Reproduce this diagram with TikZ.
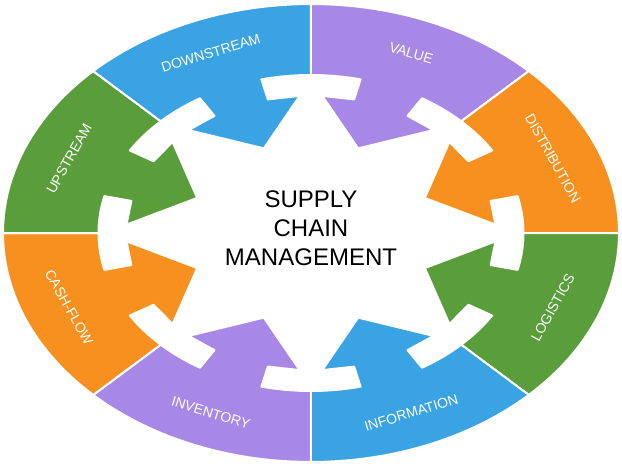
\documentclass[tikz,border=0pt]{standalone}
\usepackage{fontspec}
\setmainfont{Liberation Sans}
\definecolor{cblue}{HTML}{3AA3E3}
\definecolor{cpurple}{HTML}{A888E6}
\definecolor{corange}{HTML}{F7901E}
\definecolor{cgreen}{HTML}{5A9E3C}
\tikzset{seglbl/.style={text=white,font=\fontsize{14}{16}\selectfont},
  seg/.style={draw=white,line width=2pt,line join=round}}
\begin{document}
\begin{tikzpicture}[x=1pt,y=1pt]
\useasboundingbox[fill=white] (-311,-233) rectangle (311,233);
\def\RX{308}\def\RY{229}
\foreach \a/\c/\t in {67.5/cpurple/VALUE,22.5/corange/DISTRIBUTION,-22.5/cgreen/LOGISTICS,-67.5/cblue/INFORMATION,-112.5/cpurple/INVENTORY,-157.5/corange/CASH-FLOW,157.5/cgreen/UPSTREAM,112.5/cblue/DOWNSTREAM}{
  \fill[\c,seg]
    plot[domain=\a-22.5:\a+22.5,samples=24] ({\RX*cos(\x)},{\RY*sin(\x)})
    -- plot[domain=\a+22.5:\a+9,samples=6] ({0.69*\RX*cos(\x)},{0.69*\RY*sin(\x)})
    -- ({0.6*\RX*cos(\a+9)},{0.6*\RY*sin(\a+9)})
    -- ({0.6*\RX*cos(\a+19)},{0.6*\RY*sin(\a+19)})
    -- ({0.4*\RX*cos(\a)},{0.4*\RY*sin(\a)})
    -- ({0.6*\RX*cos(\a-19)},{0.6*\RY*sin(\a-19)})
    -- ({0.6*\RX*cos(\a-9)},{0.6*\RY*sin(\a-9)})
    -- plot[domain=\a-9:\a-22.5,samples=6] ({0.69*\RX*cos(\x)},{0.69*\RY*sin(\x)})
    -- cycle;
  \pgfmathsetmacro{\rot}{sin(\a)>0 ? atan2(-\RY*cos(\a),\RX*sin(\a)) : atan2(\RY*cos(\a),-\RX*sin(\a))}
  \node[seglbl,rotate=\rot,name=l\t] at ({0.85*\RX*cos(\a)},{0.85*\RY*sin(\a)}) {\t};
}
\node[align=center,font=\fontsize{24}{29}\selectfont,name=title] at (0,5) {SUPPLY\\CHAIN\\MANAGEMENT};
\end{tikzpicture}
\end{document}
